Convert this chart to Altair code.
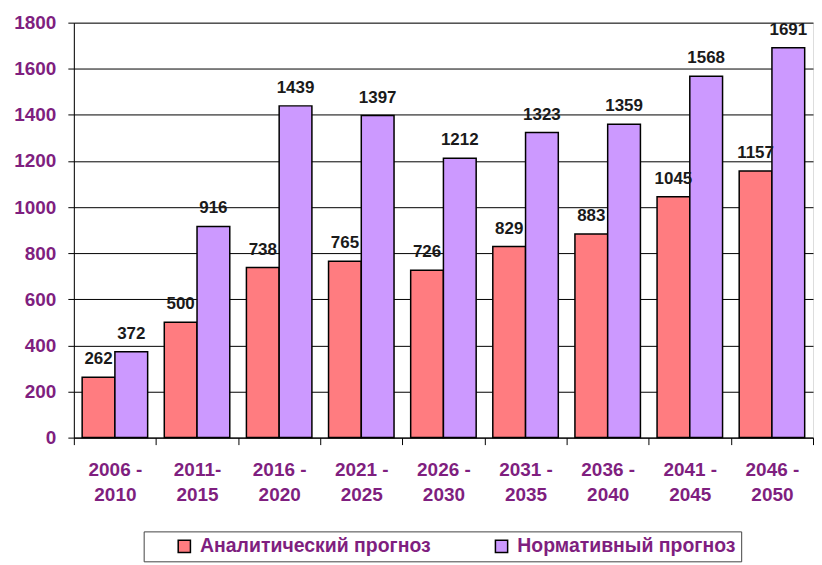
import altair as alt
import pandas as pd

categories = ["2006 -|2010", "2011-|2015", "2016 -|2020", "2021 -|2025", "2026 -|2030",
              "2031 -|2035", "2036 -|2040", "2041 -|2045", "2046 -|2050"]
series_names = ["Аналитический прогноз", "Нормативный прогноз"]
analytic = [262, 500, 738, 765, 726, 829, 883, 1045, 1157]
normative = [372, 916, 1439, 1397, 1212, 1323, 1359, 1568, 1691]
colors = ["#FF7C80", "#CC99FF"]
y_ticks = [0, 200, 400, 600, 800, 1000, 1200, 1400, 1600, 1800]

rows = []
for c, a, n in zip(categories, analytic, normative):
    rows.append({"period": c, "series": series_names[0], "value": a})
    rows.append({"period": c, "series": series_names[1], "value": n})
df = pd.DataFrame(rows)

purple = "#7f1f7f"
font = "Liberation Sans"

x = alt.X("period:N", sort=categories, title=None,
          scale=alt.Scale(paddingInner=0, paddingOuter=0),
          axis=alt.Axis(labelExpr="split(datum.label, '|')", labelAngle=0,
                        labelFontSize=19, labelFontWeight="bold", labelColor=purple,
                        labelFont=font, labelLineHeight=25, labelPadding=16,
                        tickBand="extent", tickSize=7, tickColor="black",
                        domainColor="black", labelBaseline="top"))
xo = alt.XOffset("series:N", sort=series_names,
                 scale=alt.Scale(domain=series_names, paddingInner=0, paddingOuter=0.254))
y = alt.Y("value:Q", title=None,
          scale=alt.Scale(domain=[0, 1800], nice=False),
          axis=alt.Axis(values=y_ticks, format="d", labelFontSize=19, labelFontWeight="bold",
                        labelColor=purple, labelFont=font, labelPadding=12,
                        tickSize=6, tickColor="black", domainColor="black",
                        gridColor="black", gridWidth=1, gridOpacity=1))

bars = alt.Chart(df).mark_bar(stroke="black", strokeWidth=1.5).encode(
    x=x, xOffset=xo, y=y,
    color=alt.Color("series:N", sort=series_names,
                    scale=alt.Scale(domain=series_names, range=colors),
                    legend=alt.Legend(title=None, orient="none", legendX=70, legendY=510,
                                      direction="horizontal", symbolType="square",
                                      symbolSize=150, symbolStrokeColor="black",
                                      symbolStrokeWidth=1.5, symbolOffset=26,
                                      labelFontSize=19.5, labelFontWeight="bold",
                                      labelColor=purple, labelFont=font, labelLimit=400,
                                      labelExpr="datum.label + '    '",
                                      columnPadding=35, padding=5, labelOffset=6,
                                      strokeColor="#444444"))
)

texts = alt.Chart(df).mark_text(baseline="alphabetic", dy=-13, fontSize=17,
                                fontWeight="bold", font=font, color="#1a1a1a").encode(
    x=x, xOffset=xo, y=y, text=alt.Text("value:Q", format="d")
)

chart = (bars + texts).properties(
    width=741, height=416,
    padding={"left": 5, "top": 5, "right": 0, "bottom": 0}
).configure_view(strokeWidth=0).configure_legend(strokeWidth=2).configure(background="white")

chart.save("out.html", embed_options={"renderer": "svg", "actions": False})
